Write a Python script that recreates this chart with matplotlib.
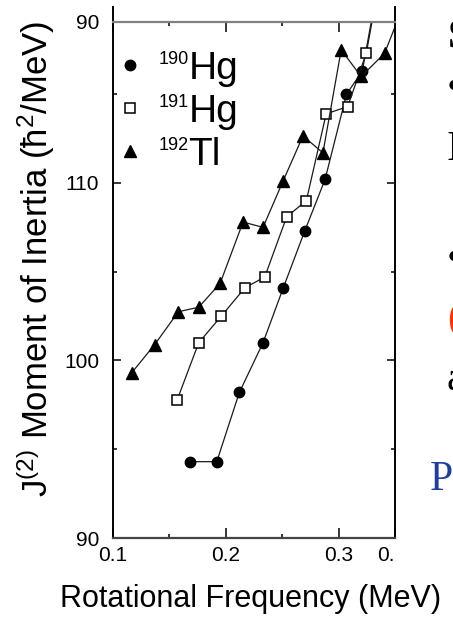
import matplotlib
matplotlib.use("Agg")
import matplotlib.pyplot as plt
from matplotlib.ticker import FixedLocator

plt.rcParams['font.family'] = ['Liberation Sans', 'DejaVu Sans']
plt.rcParams['mathtext.fontset'] = 'custom'
plt.rcParams['mathtext.rm'] = 'Liberation Sans'
plt.rcParams['mathtext.default'] = 'regular'

# J(2) dynamic moment of inertia vs rotational frequency
omega_190 = [0.168, 0.192, 0.212, 0.233, 0.251, 0.270, 0.288, 0.307, 0.321, 0.333]
j2_190 = [94.3, 94.3, 98.2, 101.0, 104.1, 107.3, 110.2, 115.0, 116.3, 120.5]

omega_191 = [0.157, 0.176, 0.196, 0.217, 0.2345, 0.254, 0.2714, 0.289, 0.308, 0.3245, 0.334]
j2_191 = [97.8, 101.0, 102.5, 104.1, 104.7, 108.1, 109.0, 113.9, 114.3, 117.3, 120.6]

omega_192 = [0.1165, 0.137, 0.158, 0.176, 0.195, 0.2153, 0.233, 0.2507, 0.2684, 0.2861,
             0.3023, 0.320, 0.3407, 0.36]
j2_192 = [99.3, 100.9, 102.75, 103.0, 104.35, 107.8, 107.5, 110.1, 112.65, 111.7,
          117.5, 116.0, 117.3, 120.4]

mass = ['190', '191', '192']
element = ['Hg', 'Hg', 'Tl']

x_ticks = [0.1, 0.2, 0.3, 0.35]
x_ticklabels = ['0.1', '0.2', '0.3', '0.']
y_top = 119.07
y_ticks = [90, 100, 110, y_top]
y_ticklabels = ['90', '100', '110', '90']

fig = plt.figure(figsize=(4.53, 6.22), dpi=100)
ax = fig.add_axes([113 / 453, 1 - 538 / 622, 282 / 453, 516 / 622])

ln = dict(color='#1a1a1a', lw=0.9, clip_on=True)
h1, = ax.plot(omega_190, j2_190, marker='o', ms=7.5, mfc='black', mec='black', **ln)
h2, = ax.plot(omega_191, j2_191, marker='s', ms=6.5, mfc='white', mec='black', mew=1.1, **ln)
h3, = ax.plot(omega_192, j2_192, marker='^', ms=8, mfc='black', mec='black', **ln)

ax.set_xlim(0.1, 0.35)
ax.set_ylim(90, y_top)

ax.xaxis.set_major_locator(FixedLocator(x_ticks))
ax.set_xticklabels(x_ticklabels)
ax.xaxis.set_minor_locator(FixedLocator([0.15, 0.25]))
ax.yaxis.set_major_locator(FixedLocator(y_ticks))
ax.set_yticklabels(y_ticklabels)
ax.yaxis.set_minor_locator(FixedLocator([95, 105, 115]))
ax.get_xticklabels()[-1].set_ha('right')

ax.tick_params(which='both', direction='in', bottom=True, left=True, right=True, top=True,
               labelsize=15, width=1.1)
ax.tick_params(which='major', length=6)
ax.tick_params(which='minor', length=3)
ax.tick_params(axis='x', which='major', length=7)
ax.tick_params(axis='y', pad=10)
ax.tick_params(axis='x', pad=6)

for side in ['left', 'right']:
    ax.spines[side].set_bounds(90, 119.9)
    ax.spines[side].set_linewidth(1.4)
ax.spines['top'].set_color('#808080')
ax.spines['top'].set_linewidth(1.6)
ax.spines['bottom'].set_color('#444444')
ax.spines['bottom'].set_linewidth(1.6)

ax.set_xlabel('Rotational Frequency (MeV)', fontsize=22)
ax.xaxis.set_label_coords(0.489, -0.09)
ax.set_ylabel('J$^{(2)}$ Moment of Inertia (ħ$^2$/MeV)', fontsize=25)
ax.yaxis.set_label_coords(-0.200, 0.541)

leg = ax.legend([h1, h2, h3], element, loc='upper left', bbox_to_anchor=(0.025, 0.944),
                frameon=False, fontsize=28, handlelength=0.5, handletextpad=1.26,
                labelspacing=0.18, borderpad=0, borderaxespad=0, numpoints=1)
for lh in leg.get_lines():
    lh.set_linestyle('none')

# mass numbers as small superscripts in front of the element symbols
fig.canvas.draw()
inv = fig.transFigure.inverted()
for t, a in zip(leg.get_texts(), mass):
    bb = t.get_window_extent()
    x0, y1 = inv.transform((bb.x0, bb.y1))
    fig.text(x0, y1, a, ha='right', va='top', fontsize=13)

# fragments of the neighbouring slide text, running off the right edge
serif = ['Liberation Serif', 'DejaVu Serif']
fig.text(448 / 453, 1 - 48 / 622, 'S', family=serif, fontsize=30, fontweight='bold', va='baseline')
fig.text(447 / 453, 1 - 89 / 622, '•', family=serif, fontsize=30, va='center')
fig.text(447 / 453, 1 - 160 / 622, 'I', family=serif, fontsize=30, va='baseline')
fig.text(447 / 453, 1 - 260 / 622, '•', family=serif, fontsize=30, va='center')
fig.text(447 / 453, 1 - 320 / 622, '(', family=serif, fontsize=30, va='center', color='#ff3300')
fig.text(447 / 453, 1 - 390 / 622, 'a', family=serif, fontsize=30, va='baseline')
fig.text(430 / 453, 1 - 490 / 622, 'P', family=serif, fontsize=30, va='baseline', color='#1f3f9f')

fig.savefig('out.png', dpi=100)
